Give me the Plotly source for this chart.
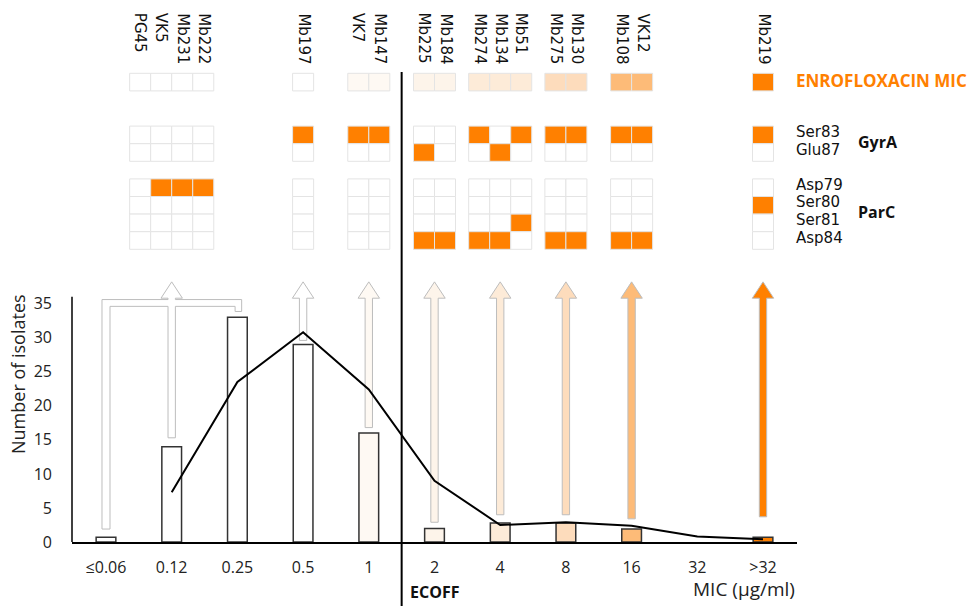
import plotly.graph_objects as go

# ---------------- data ----------------
mic_labels = ["≤0.06", "0.12", "0.25", "0.5", "1", "2", "4", "8", "16", "32", ">32"]
isolate_counts = [0.7, 14, 33, 29, 16, 2, 2.8, 2.8, 1.9, None, 0.7]
trend_idx = [1, 2, 3, 4, 5, 6, 7, 8, 9, 10]
trend_values = [7.3, 23.5, 30.8, 22.4, 9.0, 2.5, 2.9, 2.4, 0.8, 0.4]
mic_colors = ["#ffffff", "#ffffff", "#ffffff", "#ffffff", "#fef9f3", "#fdf4ea",
              "#fdebd8", "#fddcbc", "#fdbb78", "#ffffff", "#ff8000"]

isolates = ["PG45", "VK5", "Mb231", "Mb222", "Mb197", "VK7", "Mb147", "Mb225", "Mb184",
            "Mb274", "Mb134", "Mb51", "Mb275", "Mb130", "Mb108", "VK12", "Mb219"]
isolate_mic_idx = [1, 1, 1, 1, 3, 4, 4, 5, 5, 6, 6, 6, 7, 7, 8, 8, 10]
gyrA_ser83 = [0, 0, 0, 0, 1, 1, 1, 0, 0, 1, 0, 1, 1, 1, 1, 1, 1]
gyrA_glu87 = [0, 0, 0, 0, 0, 0, 0, 1, 0, 0, 1, 0, 0, 0, 0, 0, 0]
parC_asp79 = [0, 1, 1, 1, 0, 0, 0, 0, 0, 0, 0, 0, 0, 0, 0, 0, 0]
parC_ser80 = [0, 0, 0, 0, 0, 0, 0, 0, 0, 0, 0, 0, 0, 0, 0, 0, 1]
parC_ser81 = [0, 0, 0, 0, 0, 0, 0, 0, 0, 0, 0, 1, 0, 0, 0, 0, 0]
parC_asp84 = [0, 0, 0, 0, 0, 0, 0, 1, 1, 1, 1, 0, 1, 1, 1, 1, 0]

arrow_idx = [1, 3, 4, 5, 6, 7, 8, 10]
arrow_start = [15.3, 29.6, 16.8, 2.9, 4.0, 4.0, 3.4, 3.7]
bracket_left_start = 1.9

# ---------------- layout helpers ----------------
W, H = 967, 607
ML, MR, MT, MB = 72, 170, 0, 65
PW, PH = W - ML - MR, H - MT - MB
X_RANGE = [-0.5175, 10.5175]
Y_RANGE = [0, PH / 6.81]
ROW_PX, ROW0_PX = 17.6, 73.3
Y2_RANGE = [(PH - ROW0_PX) / ROW_PX, -ROW0_PX / ROW_PX]


def px(p):
    return (p - ML) / PW


def py(p):
    return 1 - (p - MT) / PH


ORANGE = "#ff8000"
CELL_W = 0.32
NARROW = "Liberation Sans Narrow, Open Sans"

fig = go.Figure()

# count bars
fig.add_trace(go.Bar(
    x=list(range(len(mic_labels))), y=isolate_counts, width=0.3,
    marker=dict(color=mic_colors, line=dict(color="#333333", width=1.5)),
    showlegend=False, hoverinfo="skip"))

# trend line
fig.add_trace(go.Scatter(
    x=trend_idx, y=trend_values, mode="lines",
    line=dict(color="black", width=2), showlegend=False, hoverinfo="skip"))

# isolate x positions
iso_x = []
for i, m in enumerate(isolate_mic_idx):
    members = [k for k, mm in enumerate(isolate_mic_idx) if mm == m]
    j = members.index(i)
    iso_x.append(m + (j - (len(members) - 1) / 2) * CELL_W)

rows = [
    ("MIC", 0, [mic_colors[m] for m in isolate_mic_idx]),
    ("Ser83", 3, [ORANGE if v else "#ffffff" for v in gyrA_ser83]),
    ("Glu87", 4, [ORANGE if v else "#ffffff" for v in gyrA_glu87]),
    ("Asp79", 6, [ORANGE if v else "#ffffff" for v in parC_asp79]),
    ("Ser80", 7, [ORANGE if v else "#ffffff" for v in parC_ser80]),
    ("Ser81", 8, [ORANGE if v else "#ffffff" for v in parC_ser81]),
    ("Asp84", 9, [ORANGE if v else "#ffffff" for v in parC_asp84]),
]
for name, slot, cols in rows:
    fig.add_trace(go.Bar(
        x=iso_x, y=[1] * len(iso_x), base=[slot] * len(iso_x), width=CELL_W,
        marker=dict(color=cols, line=dict(color="#e4e4e4", width=1)),
        yaxis="y2", showlegend=False, hoverinfo="skip"))

# ---------------- arrows ----------------
TIP, HB, HW, SW = 38.2, 35.8, 0.163, 0.056
shapes = []


def arrow_path(xc, y0):
    return (f"M {xc-SW},{y0} L {xc-SW},{HB} L {xc-HW},{HB} L {xc},{TIP} "
            f"L {xc+HW},{HB} L {xc+SW},{HB} L {xc+SW},{y0} Z")


for idx, y0 in zip(arrow_idx, arrow_start):
    if idx == 1:
        # bracket joining <=0.06, 0.12 and 0.25 into one arrow
        T, Bi, E, h = 35.6, 34.6, 33.85, 0.061
        x0, x1, x2 = 0, 1, 2
        p = (f"M {x0-h},{bracket_left_start} L {x0-h},{T} L {x1-SW},{T} L {x1-SW},{HB} "
             f"L {x1-HW},{HB} L {x1},{TIP} L {x1+HW},{HB} L {x1+SW},{HB} L {x1+SW},{T} "
             f"L {x2+0.065},{T} L {x2+0.065},{E} L {x2-0.035},{E} L {x2-0.035},{Bi} "
             f"L {x1+SW},{Bi} L {x1+SW},{y0} L {x1-SW},{y0} L {x1-SW},{Bi} "
             f"L {x0+h},{Bi} L {x0+h},{bracket_left_start} Z")
    else:
        p = arrow_path(idx, y0)
    shapes.append(dict(type="path", path=p, xref="x", yref="y", layer="below",
                       fillcolor=mic_colors[idx], line=dict(color="#bdbdbd", width=1)))

# y axis line
shapes.append(dict(type="line", xref="paper", yref="y", x0=0, x1=0, y0=0, y1=36.0,
                   line=dict(color="black", width=1.5)))
# ECOFF line
shapes.append(dict(type="line", xref="x", yref="paper", x0=4.5, x1=4.5,
                   y0=py(72), y1=py(606), line=dict(color="black", width=2)))

# ---------------- annotations ----------------
ann = []
for name, x in zip(isolates, iso_x):
    ann.append(dict(text=name, x=x, xref="x", y=py(11), yref="paper", xanchor="center",
                    yanchor="top", textangle=90, showarrow=False,
                    font=dict(family="DejaVu Sans", size=15, color="#111111")))

for name, slot, _ in rows[1:]:
    ann.append(dict(text=name, x=px(794), xref="paper", y=slot + 0.5, yref="y2",
                    xanchor="left", yanchor="middle", yshift=3, showarrow=False,
                    font=dict(family="DejaVu Sans", size=15, color="#111111")))

ann.append(dict(text="<b>ENROFLOXACIN MIC</b>", x=px(794), xref="paper", y=0.5, yref="y2",
                xanchor="left", yanchor="middle", yshift=2, showarrow=False,
                font=dict(family="Open Sans", size=17, color=ORANGE)))
ann.append(dict(text="<b>GyrA</b>", x=px(856), xref="paper", y=4.0, yref="y2",
                xanchor="left", yanchor="middle", yshift=2, showarrow=False,
                font=dict(family="Open Sans", size=16, color="#111111")))
ann.append(dict(text="<b>ParC</b>", x=px(856), xref="paper", y=8.0, yref="y2",
                xanchor="left", yanchor="middle", yshift=2, showarrow=False,
                font=dict(family="Open Sans", size=16, color="#111111")))
ann.append(dict(text="<b>ECOFF</b>", x=px(408), xref="paper", y=py(592), yref="paper",
                xanchor="left", yanchor="middle", showarrow=False,
                font=dict(family="Open Sans", size=16, color="#111111")))
ann.append(dict(text="MIC (µg/ml)", x=1.0, xref="paper", y=py(589), yref="paper",
                xanchor="right", yanchor="middle", showarrow=False,
                font=dict(family=NARROW, size=19, color="#222222")))
ann.append(dict(text="Number of isolates", x=px(18), xref="paper", y=py(374), yref="paper",
                xanchor="center", yanchor="middle", textangle=-90, showarrow=False,
                font=dict(family=NARROW, size=18, color="#222222")))

tick_font = dict(family=NARROW, size=16, color="#222222")

fig.update_layout(
    width=W, height=H, margin=dict(l=ML, r=MR, t=MT, b=MB),
    paper_bgcolor="white", plot_bgcolor="white",
    barmode="overlay", showlegend=False,
    xaxis=dict(range=X_RANGE, tickmode="array", tickvals=list(range(len(mic_labels))),
               ticktext=mic_labels, showline=True, linecolor="black", linewidth=1.5,
               ticks="", showgrid=False, zeroline=False, tickfont=tick_font,
               ticklabelstandoff=10, fixedrange=True),
    yaxis=dict(range=Y_RANGE, tickmode="array", tickvals=[0, 5, 10, 15, 20, 25, 30, 35],
               showline=False, ticks="", showgrid=False, zeroline=False,
               tickfont=tick_font, ticklabelstandoff=19, fixedrange=True),
    yaxis2=dict(range=Y2_RANGE, overlaying="y", visible=False, showgrid=False,
                zeroline=False, fixedrange=True),
    shapes=shapes, annotations=ann,
)

fig.write_html("out.html", config={"displayModeBar": False},
               post_script="document.body.style.margin='0';document.body.style.overflow='hidden';")
